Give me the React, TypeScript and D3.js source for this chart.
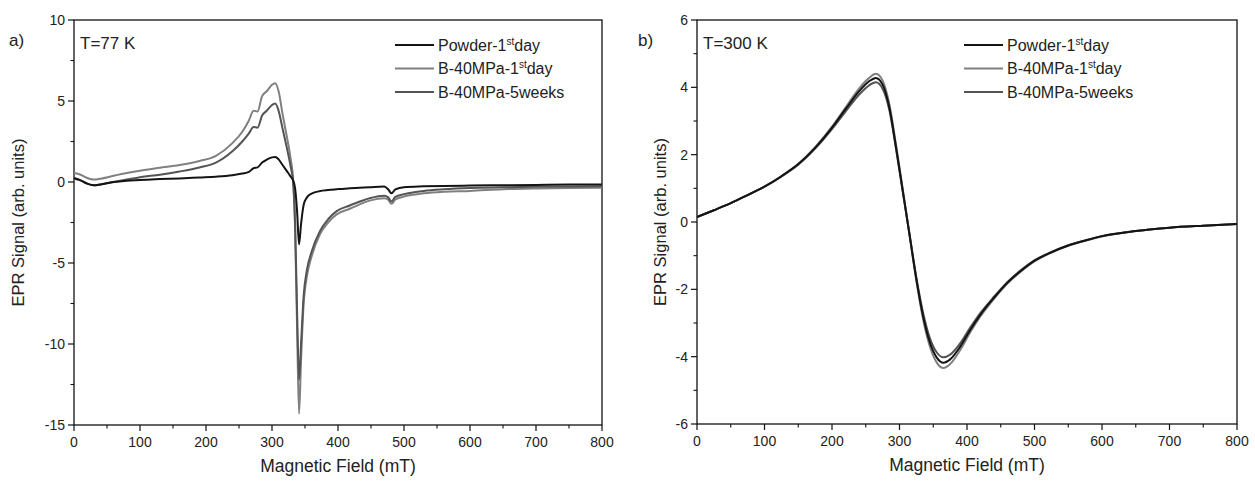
import React from "react";
import * as d3 from "d3";

// ---------- Panel a) T = 77 K ----------
const fieldA = [0, 10, 20, 30, 40, 60, 80, 100, 130, 160, 190, 215, 240, 255, 265, 272, 278, 285, 292, 300, 305, 310, 316, 322, 328, 332, 335, 338, 341, 344, 348, 353, 360, 373, 385, 398, 418, 448, 470, 476, 481, 487, 500, 530, 560, 600, 650, 700, 750, 800];
const powderA = [0.25, 0.1, -0.1, -0.2, -0.15, 0.0, 0.08, 0.12, 0.18, 0.22, 0.28, 0.33, 0.42, 0.52, 0.62, 0.85, 0.9, 1.2, 1.38, 1.52, 1.55, 1.4, 1.05, 0.7, 0.35, 0.1, -0.4, -1.8, -3.85, -2.6, -1.4, -0.95, -0.72, -0.56, -0.5, -0.45, -0.38, -0.32, -0.28, -0.45, -0.7, -0.45, -0.32, -0.27, -0.24, -0.22, -0.2, -0.18, -0.16, -0.15];
const b1stA = [0.55, 0.45, 0.25, 0.15, 0.2, 0.38, 0.55, 0.7, 0.88, 1.05, 1.3, 1.62, 2.4, 3.1, 3.8, 4.4, 4.35, 5.3, 5.6, 6.0, 6.1, 5.6, 4.2, 2.9, 1.5, 0.1, -3.0, -9.0, -14.3, -11.0, -7.5, -5.8, -4.6, -3.2, -2.5, -2.0, -1.65, -1.15, -1.0, -1.1, -1.35, -1.08, -0.9, -0.7, -0.6, -0.55, -0.45, -0.4, -0.37, -0.35];
const b5wA = [0.2, 0.1, -0.1, -0.2, -0.15, 0.0, 0.15, 0.3, 0.45, 0.65, 0.9, 1.2, 1.9, 2.5, 3.0, 3.4, 3.35, 4.1, 4.4, 4.75, 4.85, 4.4, 3.3, 2.2, 1.0, 0.0, -2.5, -8.0, -12.2, -10.0, -7.0, -5.4, -4.3, -3.0, -2.3, -1.8, -1.45, -1.0, -0.85, -0.95, -1.2, -0.92, -0.75, -0.55, -0.45, -0.37, -0.33, -0.3, -0.28, -0.27];

// ---------- Panel b) T = 300 K ----------
const fieldB = [0, 25, 50, 75, 100, 125, 150, 175, 200, 220, 240, 255, 265, 275, 285, 295, 305, 315, 325, 335, 345, 355, 365, 375, 390, 405, 420, 440, 460, 480, 500, 525, 550, 575, 600, 650, 700, 750, 800];
const powderB = [0.15, 0.35, 0.56, 0.8, 1.05, 1.36, 1.72, 2.2, 2.8, 3.35, 3.88, 4.18, 4.28, 4.08, 3.4, 2.2, 0.9, -0.4, -1.7, -2.8, -3.58, -4.02, -4.18, -4.08, -3.7, -3.2, -2.75, -2.25, -1.8, -1.45, -1.15, -0.9, -0.7, -0.55, -0.42, -0.27, -0.17, -0.11, -0.06];
const b1stB = [0.15, 0.35, 0.56, 0.8, 1.05, 1.36, 1.72, 2.22, 2.83, 3.4, 3.96, 4.28, 4.4, 4.2, 3.5, 2.28, 0.95, -0.4, -1.75, -2.9, -3.7, -4.17, -4.34, -4.22, -3.8, -3.27, -2.8, -2.28, -1.83, -1.47, -1.17, -0.91, -0.71, -0.56, -0.43, -0.27, -0.17, -0.11, -0.06];
const b5wB = [0.15, 0.35, 0.56, 0.8, 1.05, 1.35, 1.7, 2.18, 2.76, 3.28, 3.78, 4.06, 4.15, 3.96, 3.32, 2.15, 0.88, -0.38, -1.65, -2.7, -3.45, -3.87, -4.02, -3.94, -3.6, -3.13, -2.7, -2.22, -1.78, -1.43, -1.14, -0.89, -0.69, -0.55, -0.42, -0.27, -0.17, -0.11, -0.06];

const xTicks = [0, 100, 200, 300, 400, 500, 600, 700, 800];
const xMinor = [50, 150, 250, 350, 450, 550, 650, 750];
const yTicksA = [-15, -10, -5, 0, 5, 10];
const yMinorA = [-12.5, -7.5, -2.5, 2.5, 7.5];
const yTicksB = [-6, -4, -2, 0, 2, 4, 6];
const yMinorB = [-5, -3, -1, 1, 3, 5];

const seriesNames = ["Powder-1", "B-40MPa-1", "B-40MPa-5weeks"];
const seriesColors = ["#141414", "#808080", "#545454"];

const FONT = "'Liberation Sans', Arial, Helvetica, sans-serif";

type PanelProps = {
  x0: number; x1: number; y0: number; y1: number;
  yDomain: [number, number];
  yTicks: number[]; yMinor: number[];
  field: number[]; series: number[][];
  tag: string; temp: string;
  legendX: number; tagX: number; yTitleX: number;
};

function Panel(p: PanelProps) {
  const x = d3.scaleLinear().domain([0, 800]).range([p.x0, p.x1]);
  const y = d3.scaleLinear().domain(p.yDomain).range([p.y1, p.y0]);
  const line = d3.line<number>()
    .x((_, i) => x(p.field[i]))
    .y((d) => y(d))
    .curve(d3.curveMonotoneX);
  const order = [1, 2, 0];
  return (
    <g fontFamily={FONT}>
      <rect x={p.x0} y={p.y0} width={p.x1 - p.x0} height={p.y1 - p.y0} fill="none" stroke="#111" strokeWidth={1.3} />
      <g>
        {order.map((k) => (
          <path key={k} d={line(p.series[k]) || ""} fill="none" stroke={seriesColors[k]} strokeWidth={2} strokeLinejoin="round" />
        ))}
      </g>
      {xTicks.map((t) => (
        <g key={"xt" + t}>
          <line x1={x(t)} x2={x(t)} y1={p.y1} y2={p.y1 + 6} stroke="#111" strokeWidth={1.2} />
          <text x={x(t)} y={p.y1 + 22} textAnchor="middle" fontSize={14} fill="#222">{t}</text>
        </g>
      ))}
      {xMinor.map((t) => (
        <line key={"xm" + t} x1={x(t)} x2={x(t)} y1={p.y1} y2={p.y1 + 3.5} stroke="#111" strokeWidth={1.1} />
      ))}
      {p.yTicks.map((t) => (
        <g key={"yt" + t}>
          <line x1={p.x0 - 6} x2={p.x0} y1={y(t)} y2={y(t)} stroke="#111" strokeWidth={1.2} />
          <text x={p.x0 - 9} y={y(t) + 5} textAnchor="end" fontSize={14} fill="#222">{t}</text>
        </g>
      ))}
      {p.yMinor.map((t) => (
        <line key={"ym" + t} x1={p.x0 - 3.5} x2={p.x0} y1={y(t)} y2={y(t)} stroke="#111" strokeWidth={1.1} />
      ))}
      <text x={(p.x0 + p.x1) / 2} y={p.y1 + 47} textAnchor="middle" fontSize={17.5} fill="#222">Magnetic Field (mT)</text>
      <text transform={`translate(${p.yTitleX},${(p.y0 + p.y1) / 2}) rotate(-90)`} textAnchor="middle" fontSize={16.5} fill="#222">EPR Signal (arb. units)</text>
      <text x={p.tagX} y={p.y0 + 26} fontSize={17} fill="#222">{p.tag}</text>
      <text x={p.x0 + 6} y={p.y0 + 29} fontSize={17} fill="#222">{p.tag === "a)" ? p.temp : p.temp}</text>
      {seriesNames.map((name, i) => {
        const ly = p.y0 + 25 + i * 23.5;
        return (
          <g key={name}>
            <line x1={p.legendX} x2={p.legendX + 39} y1={ly} y2={ly} stroke={seriesColors[i]} strokeWidth={2} />
            <text x={p.legendX + 43} y={ly + 5.5} fontSize={16} fill="#222">
              {name}
              {i < 2 ? (
                <>
                  <tspan fontSize={10} dy={-6}>st</tspan>
                  <tspan dy={6}>day</tspan>
                </>
              ) : null}
            </text>
          </g>
        );
      })}
    </g>
  );
}

export default function App() {
  return (
    <svg width={1255} height={484} viewBox="0 0 1255 484" style={{ position: "absolute", left: 0, top: 0, background: "#fff" }}>
      <rect x={0} y={0} width={1255} height={484} fill="#fff" />
      <Panel x0={74} x1={602} y0={20} y1={425} yDomain={[-15, 10]} yTicks={yTicksA} yMinor={yMinorA}
        field={fieldA} series={[powderA, b1stA, b5wA]} tag="a)" temp="T=77 K" legendX={395} tagX={9} yTitleX={24} />
      <Panel x0={697} x1={1237} y0={20} y1={424} yDomain={[-6, 6]} yTicks={yTicksB} yMinor={yMinorB}
        field={fieldB} series={[powderB, b1stB, b5wB]} tag="b)" temp="T=300 K" legendX={964} tagX={638} yTitleX={666} />
    </svg>
  );
}
